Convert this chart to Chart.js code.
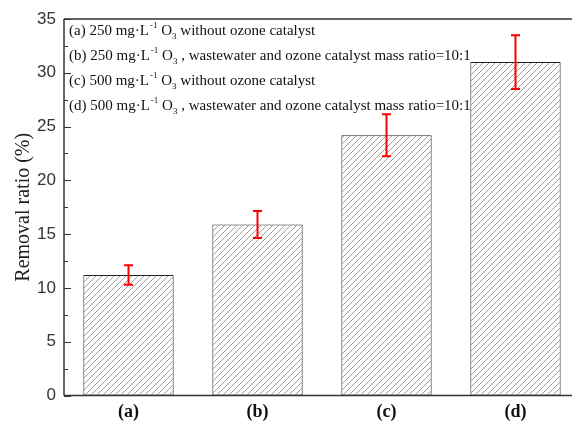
<!DOCTYPE html>
<html>
<head>
<meta charset="utf-8">
<script src="https://cdn.jsdelivr.net/npm/chart.js@4/dist/chart.umd.min.js"></script>
<style>
  html, body { margin: 0; padding: 0; background: #fff; overflow: hidden; }
  #wrap { width: 580px; height: 425px; }
</style>
</head>
<body>
<div id="wrap"><canvas id="c" width="580" height="425"></canvas></div>
<script>
// Removal ratio for each treatment condition, with error bar half-widths
const categories = ['(a)', '(b)', '(c)', '(d)'];
const removalRatio = [11.2, 15.9, 24.2, 31.0];
const errorRange = [0.9, 1.25, 1.95, 2.5];
const yTicks = [0, 5, 10, 15, 20, 25, 30, 35];

// Condition descriptions: dose, then text after "O3"
const conditionDose = ['(a) 250', '(b) 250', '(c) 500', '(d) 500'];
const conditionRest = [
  ' without ozone catalyst',
  ' , wastewater and ozone catalyst mass ratio=10:1',
  ' without ozone catalyst',
  ' , wastewater and ozone catalyst mass ratio=10:1'
];

// Diagonal hatch fill for the bars
function makeHatch() {
  const s = 6;
  const p = document.createElement('canvas');
  p.width = s; p.height = s;
  const g = p.getContext('2d');
  g.fillStyle = '#fff';
  g.fillRect(0, 0, s, s);
  g.strokeStyle = '#929292';
  g.lineWidth = 0.9;
  g.beginPath();
  g.moveTo(-1, s + 1); g.lineTo(s + 1, -1);
  g.moveTo(-1, 1); g.lineTo(1, -1);
  g.moveTo(s - 1, s + 1); g.lineTo(s + 1, s - 1);
  g.stroke();
  return document.getElementById('c').getContext('2d').createPattern(p, 'repeat');
}

// Frame lines, inward ticks, error bars and the condition notes
const decorations = {
  id: 'decorations',
  afterDatasetsDraw(chart) {
    const ctx = chart.ctx;
    const area = chart.chartArea;
    const y = chart.scales.y;
    const meta = chart.getDatasetMeta(0);
    ctx.save();

    // error bars
    ctx.strokeStyle = '#ff0000';
    ctx.lineWidth = 2;
    meta.data.forEach((bar, i) => {
      const v = removalRatio[i], e = errorRange[i];
      const yt = y.getPixelForValue(v + e);
      const yb = y.getPixelForValue(v - e);
      const cx = bar.x;
      ctx.beginPath();
      ctx.moveTo(cx, yt); ctx.lineTo(cx, yb);
      ctx.moveTo(cx - 4.5, yt); ctx.lineTo(cx + 4.5, yt);
      ctx.moveTo(cx - 4.5, yb); ctx.lineTo(cx + 4.5, yb);
      ctx.stroke();
    });

    // frame
    ctx.strokeStyle = '#333';
    ctx.lineWidth = 1.5;
    ctx.beginPath();
    ctx.moveTo(area.left, area.top); ctx.lineTo(area.right, area.top);
    ctx.moveTo(area.left, area.top); ctx.lineTo(area.left, area.bottom);
    ctx.moveTo(area.left, area.bottom); ctx.lineTo(area.right, area.bottom);
    ctx.stroke();

    // inward ticks on the left axis (major every 5, minor every 2.5)
    ctx.lineWidth = 1.2;
    ctx.beginPath();
    for (let v = 0; v <= 35; v += 2.5) {
      const py = Math.round(y.getPixelForValue(v)) + 0.5;
      const len = (v % 5 === 0) ? 7 : 4;
      ctx.moveTo(area.left, py); ctx.lineTo(area.left + len, py);
    }
    ctx.stroke();

    // condition notes
    ctx.fillStyle = '#111';
    ctx.textBaseline = 'alphabetic';
    const big = '15px "Liberation Serif", "Times New Roman", serif';
    const small = '9px "Liberation Serif", "Times New Roman", serif';
    conditionDose.forEach((dose, i) => {
      let x = area.left + 5;
      const by = area.top + 16 + i * 25;
      ctx.font = big;
      const t1 = dose + ' mg\u00b7L';
      ctx.fillText(t1, x, by); x += ctx.measureText(t1).width + 1;
      ctx.font = small;
      ctx.fillText('-1', x, by - 7); x += ctx.measureText('-1').width;
      ctx.font = big;
      const t2 = ' O';
      ctx.fillText(t2, x, by); x += ctx.measureText(t2).width;
      ctx.font = small;
      ctx.fillText('3', x, by + 4); x += ctx.measureText('3').width;
      ctx.font = big;
      ctx.fillText(conditionRest[i], x, by);
    });
    ctx.restore();
  }
};

new Chart(document.getElementById('c'), {
  type: 'bar',
  data: {
    labels: categories,
    datasets: [{
      data: removalRatio,
      backgroundColor: makeHatch(),
      borderColor: '#222',
      borderWidth: 1,
      borderSkipped: false,
      categoryPercentage: 1.0,
      barPercentage: 0.7
    }]
  },
  options: {
    responsive: false,
    animation: false,
    layout: { padding: { top: 19, left: 0, right: 0, bottom: 0 } },
    plugins: { legend: { display: false }, tooltip: { enabled: false } },
    scales: {
      x: {
        grid: { display: false, drawTicks: false },
        border: { display: false },
        ticks: {
          padding: 6,
          color: '#111',
          font: { family: '"Liberation Serif", "Times New Roman", serif', size: 18, weight: 'bold' }
        },
        afterFit(scale) { scale.height = 29.5; }
      },
      y: {
        min: 0,
        max: 35,
        afterBuildTicks(scale) { scale.ticks = yTicks.map(v => ({ value: v })); },
        grid: { display: false, drawTicks: false },
        border: { display: false },
        ticks: {
          padding: 8,
          color: '#333',
          font: { family: '"Liberation Sans", Arial, sans-serif', size: 17 }
        },
        title: {
          display: true,
          text: 'Removal ratio (%)',
          color: '#222',
          padding: { top: 12, bottom: 0 },
          font: { family: '"Liberation Serif", "Times New Roman", serif', size: 20 }
        },
        afterFit(scale) { scale.width = 64; }
      }
    }
  },
  plugins: [decorations]
});
</script>
</body>
</html>
